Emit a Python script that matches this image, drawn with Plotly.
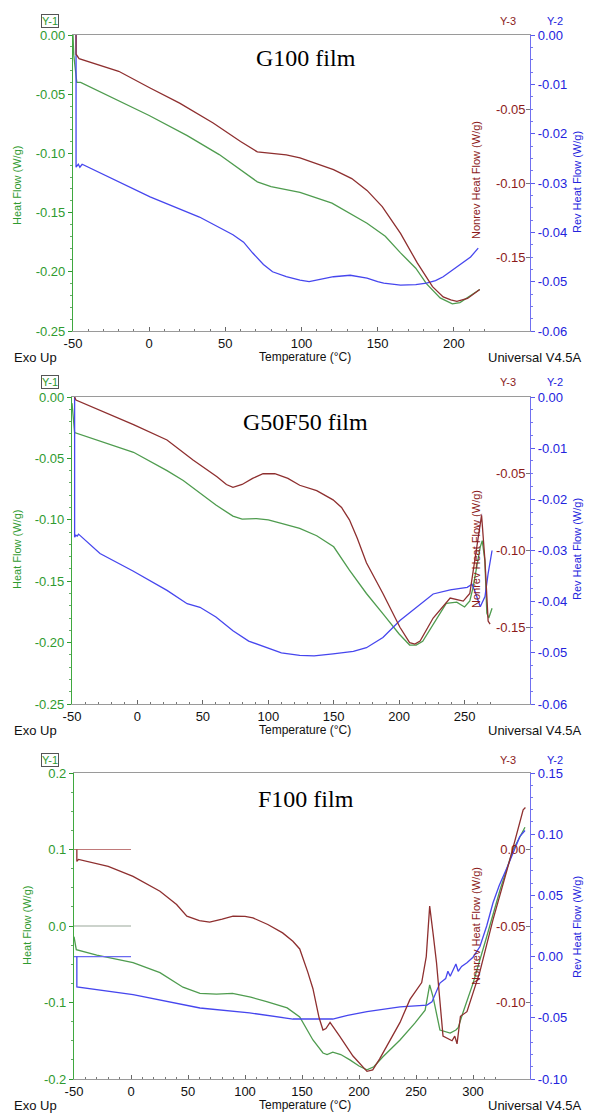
import plotly.graph_objects as go

# page body has an 8px margin: draw in reference pixel coordinates minus that offset
OFF = 8
W, H = 592 - OFF, 1113 - OFF

# ---------------- Panel 1 : G100 film ----------------
g100_hf_T = [-50, -49.5, -47.5, -45, 0, 25, 46, 60, 71, 80, 99, 120, 143, 155, 165, 175, 182, 191, 199, 204, 209, 217]
g100_hf_v = [0.0, -0.017, -0.040, -0.040, -0.068, -0.085, -0.101, -0.114, -0.124, -0.128, -0.133, -0.142, -0.159,
             -0.170, -0.184, -0.197, -0.210, -0.222, -0.227, -0.226, -0.222, -0.215]
g100_nr_T = [-48, -48, -46, -20, 0.6, 20, 42, 60, 71, 80, 90, 99, 110, 121, 133, 143, 153, 160, 165, 176, 186, 193,
             198, 202, 209, 217]
g100_nr_v = [0.0, -0.013, -0.016, -0.0245, -0.0358, -0.046, -0.0595, -0.072, -0.079, -0.080, -0.081, -0.083, -0.087,
             -0.091, -0.097, -0.105, -0.116, -0.126, -0.134, -0.154, -0.170, -0.177, -0.179, -0.180, -0.178, -0.172]
g100_rv_T = [-48, -48, -46.5, -45.5, -44, -32, 0.6, 33, 55, 62, 68, 75, 81, 90, 99, 105, 112, 121, 132, 143, 150, 154,
             165, 175, 182, 188, 193, 202, 211, 216]
g100_rv_v = [0.0, -0.0268, -0.0262, -0.0268, -0.0262, -0.028, -0.0328, -0.0369, -0.0405, -0.042, -0.0442, -0.0465,
             -0.048, -0.049, -0.0497, -0.050, -0.0495, -0.049, -0.0487, -0.0493, -0.050, -0.0503, -0.0507, -0.0506,
             -0.0503, -0.0498, -0.049, -0.047, -0.045, -0.0432]

# ---------------- Panel 2 : G50F50 film ----------------
g50_hf_T = [-50, -48, -3, 22.6, 35, 47.8, 60, 73, 80, 91, 100, 110, 124, 137, 150, 162, 175, 188, 200, 208, 213, 218,
            226, 236, 244, 250, 254, 256.5, 262, 263.5, 265.5, 267, 268.5, 270, 271]
g50_hf_v = [-0.005, -0.029, -0.045, -0.060, -0.068, -0.078, -0.088, -0.097, -0.0995, -0.099, -0.100, -0.103, -0.107,
            -0.113, -0.122, -0.141, -0.160, -0.177, -0.193, -0.202, -0.202, -0.199, -0.185, -0.168, -0.167, -0.171,
            -0.166, -0.155, -0.122, -0.117, -0.133, -0.176, -0.180, -0.175, -0.172]
g50_nr_T = [-48, -47, -3, 22.6, 42.5, 60.8, 68, 73, 80, 88, 96, 105, 115, 124, 137, 149.5, 156, 162, 168, 175, 187.6,
            200.6, 208, 212, 216, 226, 239, 249, 254, 259.5, 263, 265.6, 268, 269.5]
g50_nr_v = [0.0, -0.002, -0.018, -0.028, -0.041, -0.052, -0.057, -0.0588, -0.057, -0.053, -0.050, -0.050, -0.053,
            -0.0575, -0.061, -0.067, -0.072, -0.080, -0.092, -0.108, -0.128, -0.150, -0.160, -0.161, -0.159, -0.144,
            -0.131, -0.133, -0.128, -0.098, -0.077, -0.107, -0.146, -0.148]
g50_rv_T = [-48, -48, -47, -46, -45, -28.6, -3.4, 22.6, 38, 47.8, 60, 73, 85, 99, 110, 124, 135, 149.5, 165, 175,
            187.6, 200.6, 213.6, 226, 239, 252, 255.7, 258, 262, 265.6, 268, 271]
g50_rv_v = [0.0, -0.0274, -0.0270, -0.0272, -0.0268, -0.0306, -0.034, -0.0378, -0.0404, -0.0411, -0.043, -0.0457,
            -0.0477, -0.049, -0.050, -0.0505, -0.0506, -0.0502, -0.0497, -0.049, -0.047, -0.0437, -0.041, -0.0385,
            -0.0377, -0.0372, -0.0366, -0.038, -0.041, -0.039, -0.0345, -0.030]

# ---------------- Panel 3 : F100 film ----------------
f100_hf_T = [-50, -48, -30, 1.8, 25.4, 45.6, 60.5, 75, 89, 105, 119, 137, 148, 159.6, 168.4, 172, 177, 184, 192, 200,
             207, 213, 221, 236, 249, 258, 262, 265, 271, 280, 285, 287, 291, 300, 312, 323.7, 335, 345.6]
f100_hf_v = [-0.014, -0.031, -0.038, -0.048, -0.061, -0.080, -0.088, -0.089, -0.088, -0.093, -0.099, -0.107, -0.119,
             -0.149, -0.166, -0.168, -0.165, -0.168, -0.175, -0.183, -0.188, -0.184, -0.171, -0.149, -0.127, -0.110,
             -0.077, -0.093, -0.136, -0.140, -0.136, -0.133, -0.114, -0.075, -0.014, 0.047, 0.099, 0.129]
f100_nr_T = [-47.5, -47.5, -46, -20, 1.8, 25.4, 40, 49, 60, 69, 80, 89.5, 100, 107, 120, 133, 142, 148, 155, 159.6,
             165, 168.4, 171, 174.6, 183, 194.7, 207, 212, 218, 236, 244.7, 255, 259, 262, 265, 268, 273.7, 281.6,
             284, 286, 287.5, 289, 294.7, 306, 317.5, 330, 344, 346]
f100_nr_v = [0.0, -0.0078, -0.0065, -0.011, -0.0176, -0.0273, -0.036, -0.0436, -0.0465, -0.0475, -0.0455, -0.0436,
             -0.0437, -0.0447, -0.049, -0.0545, -0.060, -0.065, -0.080, -0.091, -0.110, -0.118, -0.117, -0.113,
             -0.122, -0.135, -0.145, -0.144, -0.137, -0.113, -0.098, -0.087, -0.070, -0.037, -0.055, -0.074,
             -0.122, -0.125, -0.122, -0.127, -0.118, -0.109, -0.106, -0.080, -0.046, -0.013, 0.026, 0.0275]
f100_rv_T = [-47.5, -47.5, 1.8, 60.5, 104, 142, 160, 177, 190, 207, 236, 259.6, 264, 267, 271, 276, 278, 280, 282.5,
             285, 287, 290, 294.7, 300, 306, 312, 317.5, 323, 330, 341, 345.6]
f100_rv_v = [0.0, -0.0248, -0.031, -0.042, -0.046, -0.051, -0.0508, -0.051, -0.048, -0.045, -0.041, -0.0396, -0.037,
             -0.030, -0.0216, -0.018, -0.012, -0.016, -0.011, -0.006, -0.012, -0.008, -0.005, -0.0005, 0.008, 0.025,
             0.0438, 0.058, 0.073, 0.098, 0.103]
f100_zero_T = [-50, 0]
f100_zero_v = [0.0, 0.0]

# ---------------- Axis ranges / ticks ----------------
titles = ["G100 film", "G50F50 film", "F100 film"]
x_ranges = [[-50, 250], [-50, 300], [-50, 350]]
x_ticks = [[-50, 0, 50, 100, 150, 200, 250], [-50, 0, 50, 100, 150, 200, 250, 300],
           [-50, 0, 50, 100, 150, 200, 250, 300, 350]]
y1_ranges = [[-0.25, 0.0], [-0.25, 0.0], [-0.2, 0.2]]
y1_ticks = [[0.0, -0.05, -0.10, -0.15, -0.20, -0.25], [0.0, -0.05, -0.10, -0.15, -0.20, -0.25],
            [0.2, 0.1, 0.0, -0.1, -0.2]]
y1_text = [["0.00", "-0.05", "-0.10", "-0.15", "-0.20", "-0.25"], ["0.00", "-0.05", "-0.10", "-0.15", "-0.20", "-0.25"],
           ["0.2", "0.1", "0.0", "-0.1", "-0.2"]]
y1_minor = [0.01, 0.01, 0.025]
y2_ranges = [[-0.06, 0.0], [-0.06, 0.0], [-0.10, 0.15]]
y2_ticks = [[0.0, -0.01, -0.02, -0.03, -0.04, -0.05, -0.06], [0.0, -0.01, -0.02, -0.03, -0.04, -0.05, -0.06],
            [0.15, 0.10, 0.05, 0.0, -0.05, -0.10]]
y2_text = [["0.00", "-0.01", "-0.02", "-0.03", "-0.04", "-0.05", "-0.06"],
           ["0.00", "-0.01", "-0.02", "-0.03", "-0.04", "-0.05", "-0.06"],
           ["0.15", "0.10", "0.05", "0.00", "-0.05", "-0.10"]]
y2_minor = [0.0025, 0.0025, 0.01]
y3_ranges = [[-0.2, 0.0], [-0.2, 0.0], [-0.15, 0.05]]
y3_ticks = [[-0.05, -0.10, -0.15], [-0.05, -0.10, -0.15], [0.0, -0.05, -0.10]]
y3_text = [["-0.05", "-0.10", "-0.15"], ["-0.05", "-0.10", "-0.15"], ["0.00", "-0.05", "-0.10"]]

# pixel geometry of each panel in the reference: (left, right, top, bottom) and text rows
boxes = [(73, 530, 35, 331), (72, 530, 397, 704), (74, 530, 773, 1079)]
bottom_rows = [357, 730, 1105]
title_y = [58, 422, 799]
hf_title_y = [186, 550, 926]
nr_title_y = [180, 549, 926]
rv_title_y = [182, 549, 927]
hf_title_x = [17, 17, 27]
top_row_y = [21, 382, 760]

GREEN_L = "#4f9c4f"
RED_L = "#8e2f2f"
BLUE_L = "#4646ee"
GREEN_T = "#2f9a2f"
RED_T = "#8b1a1a"
BLUE_T = "#2323dd"
FONT = "Liberation Sans, Arial, sans-serif"
TICK = 13

fig = go.Figure()

data = [
    (g100_hf_T, g100_hf_v, g100_nr_T, g100_nr_v, g100_rv_T, g100_rv_v),
    (g50_hf_T, g50_hf_v, g50_nr_T, g50_nr_v, g50_rv_T, g50_rv_v),
    (f100_hf_T, f100_hf_v, f100_nr_T, f100_nr_v, f100_rv_T, f100_rv_v),
]


def px(x):
    return (x - OFF) / W


def py(y):
    return 1 - (y - OFF) / H


def note(x, y, text, size, color, xanchor="center", angle=0, family=None, **kw):
    f = dict(size=size, color=color)
    if family:
        f["family"] = family
    return dict(x=px(x), y=py(y), xref="paper", yref="paper", text=text, showarrow=False, xanchor=xanchor,
                yanchor="middle", textangle=angle, font=f, **kw)


layout = dict(width=W, height=H, autosize=False, margin=dict(l=0, r=0, t=0, b=0, pad=0, autoexpand=False),
              paper_bgcolor="white", plot_bgcolor="white", showlegend=False,
              font=dict(family=FONT, size=TICK, color="black"))
annotations = []

for i in range(3):
    L, R, T, B = boxes[i]
    xs = "" if i == 0 else str(i + 1)
    xname = "x" + xs
    n1, n2, n3 = 3 * i + 1, 3 * i + 2, 3 * i + 3
    yn = lambda n: "y" if n == 1 else "y" + str(n)
    yk = lambda n: "yaxis" if n == 1 else "yaxis" + str(n)
    hfT, hfV, nrT, nrV, rvT, rvV = data[i]

    if i == 2:
        fig.add_trace(go.Scatter(x=f100_zero_T, y=f100_zero_v, mode="lines", line=dict(color="#c07a7a", width=1.2),
                                 xaxis=xname, yaxis=yn(n3)))
        fig.add_trace(go.Scatter(x=f100_zero_T, y=f100_zero_v, mode="lines", line=dict(color="#9aa89a", width=1.2),
                                 xaxis=xname, yaxis=yn(n1)))
        fig.add_trace(go.Scatter(x=f100_zero_T, y=f100_zero_v, mode="lines", line=dict(color="#6a6af0", width=1.2),
                                 xaxis=xname, yaxis=yn(n2)))

    fig.add_trace(go.Scatter(x=rvT, y=rvV, mode="lines", line=dict(color=BLUE_L, width=1.3),
                             xaxis=xname, yaxis=yn(n2)))
    fig.add_trace(go.Scatter(x=hfT, y=hfV, mode="lines", line=dict(color=GREEN_L, width=1.3),
                             xaxis=xname, yaxis=yn(n1)))
    fig.add_trace(go.Scatter(x=nrT, y=nrV, mode="lines", line=dict(color=RED_L, width=1.3),
                             xaxis=xname, yaxis=yn(n3)))

    xdom = [px(L), px(R)]
    ydom = [py(B), py(T)]
    xkey = "xaxis" if i == 0 else "xaxis" + str(i + 1)
    layout[xkey] = dict(domain=xdom, anchor=yn(n1), range=x_ranges[i], tickmode="array", tickvals=x_ticks[i],
                        ticktext=[str(v) for v in x_ticks[i]], ticks="inside", ticklen=4, automargin=False,
                        tickcolor="#666", showline=True, linecolor="#9a9a9a", linewidth=1.2, mirror=True,
                        showgrid=False, zeroline=False, tickfont=dict(size=TICK, color="#111"),
                        minor=dict(dtick=10, tick0=-50, ticks="inside", ticklen=2, tickcolor="#777"))
    layout[yk(n1)] = dict(domain=ydom, anchor=xname, range=y1_ranges[i], tickmode="array", tickvals=y1_ticks[i],
                          ticktext=y1_text[i], ticks="outside", ticklen=4, tickcolor=GREEN_T, showline=True,
                          linecolor="#3fa83f", linewidth=1.2, showgrid=False, zeroline=False, automargin=False,
                          tickfont=dict(size=TICK, color=GREEN_T),
                          minor=dict(dtick=y1_minor[i], tick0=0, ticks="outside", ticklen=2, tickcolor="#6a6"))
    layout[yk(n2)] = dict(domain=ydom, anchor=xname, overlaying=yn(n1), side="right", range=y2_ranges[i],
                          tickmode="array", tickvals=y2_ticks[i], ticktext=y2_text[i], ticks="outside", ticklen=4,
                          tickcolor="#5a5aee", showline=True, linecolor="#7070f0", linewidth=1.2, showgrid=False,
                          zeroline=False, tickfont=dict(size=TICK, color=BLUE_T), automargin=False,
                          minor=dict(dtick=y2_minor[i], tick0=0, ticks="outside", ticklen=2, tickcolor="#77e"))
    layout[yk(n3)] = dict(domain=ydom, anchor=xname, overlaying=yn(n1), side="right", range=y3_ranges[i],
                          tickmode="array", tickvals=y3_ticks[i], ticktext=y3_text[i], ticks="inside", ticklen=4,
                          tickcolor="#777", ticklabelposition="inside", showline=False, showgrid=False,
                          zeroline=False, tickfont=dict(size=TICK, color=RED_T), automargin=False)

    # text annotations
    annotations.append(note((L + R) / 2 + 4, title_y[i], titles[i], 24, "black",
                            family="Liberation Serif, Times New Roman, serif"))
    annotations.append(note(50, top_row_y[i], "Y-1", 11, GREEN_T, bordercolor="#555", borderwidth=1, borderpad=0))
    annotations.append(note(508, top_row_y[i], "Y-3", 11, RED_T))
    annotations.append(note(555, top_row_y[i], "Y-2", 11, BLUE_T))
    annotations.append(note(hf_title_x[i], hf_title_y[i], "Heat Flow (W/g)", 11, GREEN_T, angle=-90))
    annotations.append(note(476, nr_title_y[i], "Nonrev Heat Flow (W/g)", 11, RED_T, angle=-90))
    annotations.append(note(577, rv_title_y[i], "Rev Heat Flow (W/g)", 11, BLUE_T, angle=-90))
    by = bottom_rows[i]
    annotations.append(note(12, by, "Exo Up", 13, "#111", xanchor="left"))
    annotations.append(note(305, by, "Temperature (°C)", 12, "#111"))
    annotations.append(note(584, by, "Universal V4.5A", 13, "#111", xanchor="right"))

layout["annotations"] = annotations
fig.update_layout(**layout)
fig.write_html("out.html")
